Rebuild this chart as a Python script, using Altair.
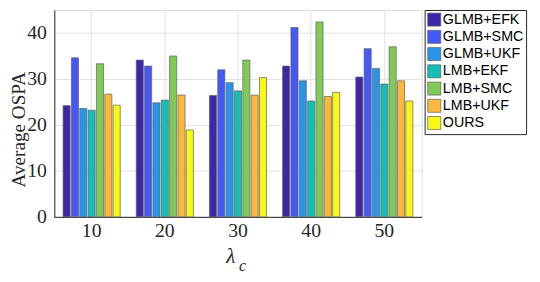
import altair as alt
import pandas as pd

lambdas = ["10", "20", "30", "40", "50"]
methods = ["GLMB+EFK", "GLMB+SMC", "GLMB+UKF", "LMB+EKF", "LMB+SMC", "LMB+UKF", "OURS"]
glmb_efk = [24.2, 34.1, 26.4, 32.8, 30.4]
glmb_smc = [34.6, 32.8, 32.0, 41.2, 36.6]
glmb_ukf = [23.6, 24.8, 29.2, 29.6, 32.3]
lmb_ekf = [23.2, 25.4, 27.4, 25.2, 28.9]
lmb_smc = [33.3, 35.0, 34.1, 42.4, 37.0]
lmb_ukf = [26.7, 26.5, 26.5, 26.2, 29.6]
ours = [24.3, 18.9, 30.3, 27.1, 25.2]
colors = ["#3E26A8", "#4458F5", "#2796E8", "#14BDB5", "#80CB58", "#FCB83D", "#F8F815"]

series = [glmb_efk, glmb_smc, glmb_ukf, lmb_ekf, lmb_smc, lmb_ukf, ours]
rows = []
for m, vals in zip(methods, series):
    for l, v in zip(lambdas, vals):
        rows.append({"lam": l, "method": m, "ospa": v})
df = pd.DataFrame(rows)

SERIF = "Liberation Serif"
INK = "#262626"

bars = alt.Chart(df).mark_bar(stroke="#5f5f5f", strokeWidth=0.7).encode(
    x=alt.X("lam:N", sort=lambdas,
            scale=alt.Scale(paddingInner=0.219, paddingOuter=0.12),
            axis=alt.Axis(title=None, labelAngle=0, labelFont=SERIF, labelFontSize=20,
                          labelColor=INK, labelPadding=4, ticks=False, domainColor=INK,
                          grid=True, gridColor="#e2e2e2", bandPosition=0.5)),
    xOffset=alt.XOffset("method:N", sort=methods,
                        scale=alt.Scale(paddingInner=0.15, paddingOuter=0)),
    y=alt.Y("ospa:Q", scale=alt.Scale(domain=[0, 45], nice=False),
            axis=alt.Axis(values=[0, 10, 20, 30, 40], title="Average OSPA",
                          titleFont=SERIF, titleFontSize=19.5, titleFontWeight="normal",
                          titleColor=INK, titleAngle=-90, titleAlign="center",
                          titleBaseline="alphabetic", titleX=-30, titleY=121,
                          labelFont=SERIF, labelFontSize=20, labelColor=INK,
                          labelPadding=8, ticks=False, domainColor=INK,
                          grid=True, gridColor="#e2e2e2")),
    color=alt.Color("method:N", sort=methods,
                    scale=alt.Scale(domain=methods, range=colors),
                    legend=alt.Legend(title=None, orient="none", legendX=376, legendY=0,
                                      symbolType="square", symbolSize=175,
                                      symbolStrokeColor="#5f5f5f", symbolStrokeWidth=0.7,
                                      symbolOpacity=1,
                                      labelFont="Liberation Sans", labelFontSize=14.5,
                                      labelColor="#000000", labelOffset=1.5,
                                      rowPadding=0.5, padding=2.5,
                                      strokeColor=INK, fillColor="white")),
)

lam_txt = alt.Chart(pd.DataFrame({"t": ["λ"]})).mark_text(
    font=SERIF, fontSize=21, fontStyle="italic", color=INK,
    align="center", baseline="alphabetic").encode(
    text="t:N", x=alt.value(179), y=alt.value(257))
sub_txt = alt.Chart(pd.DataFrame({"t": ["c"]})).mark_text(
    font=SERIF, fontSize=16, fontStyle="italic", color=INK,
    align="center", baseline="alphabetic").encode(
    text="t:N", x=alt.value(191), y=alt.value(265))

chart = alt.layer(bars, lam_txt, sub_txt).properties(
    width=373, height=210,
    autosize=alt.AutoSizeParams(type="none"),
    padding={"left": 47, "top": 0, "right": 112, "bottom": 58},
).configure_view(stroke=INK, strokeWidth=1).configure(background="white")

chart.save("out.html", embed_options={"renderer": "svg", "actions": False})
